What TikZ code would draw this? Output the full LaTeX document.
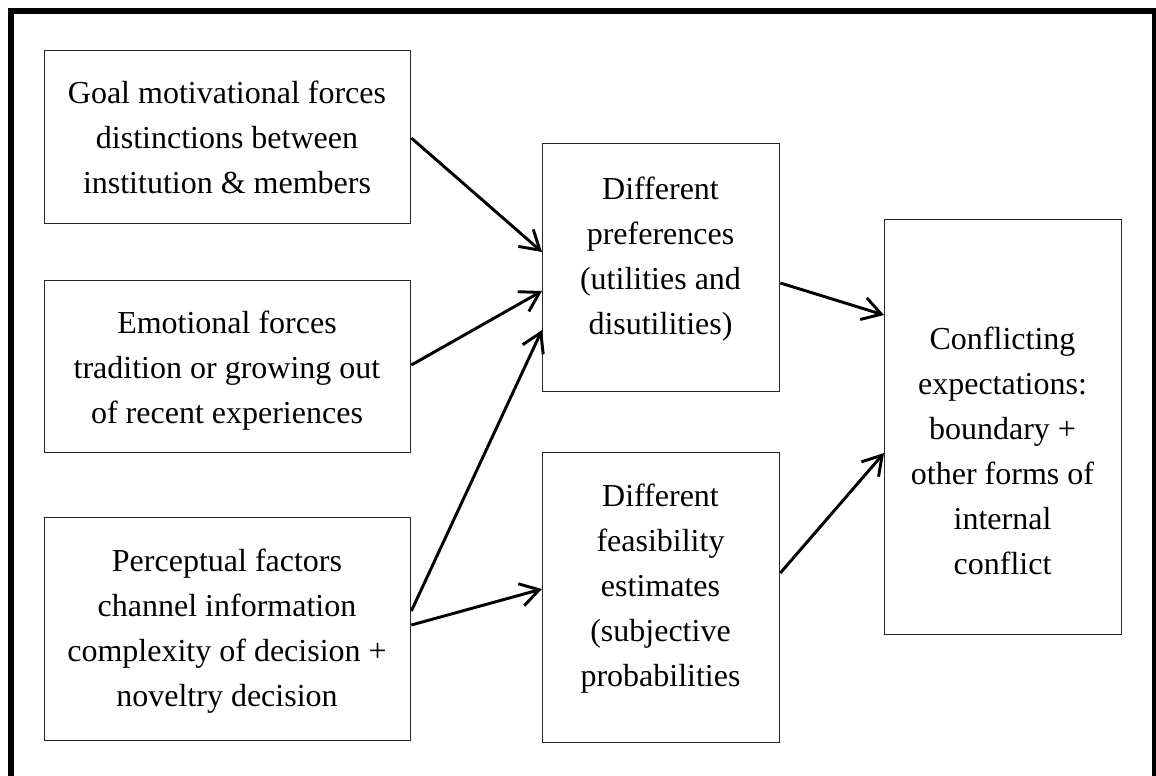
\documentclass[tikz,border=0pt]{standalone}
\usepackage{fontspec}
\setmainfont{Liberation Serif}
\usetikzlibrary{arrows.meta,calc}
\begin{document}
\begin{tikzpicture}[x=0.75pt,y=-0.75pt,
  box/.style={draw=black!85, line width=1pt, anchor=north west, inner sep=0pt},
  lbl/.style={anchor=north, align=center, inner sep=0pt, font=\fontsize{24pt}{33.75pt}\selectfont},
  arr/.style={line width=2.2pt, -{Straight Barb[length=14pt,width=17pt,line width=2.2pt]}},
  frame/.style={line width=4.5pt}
]
\useasboundingbox (0,0) rectangle (1156,775);
\draw[frame] (11,10.5) rectangle (1155,790);
% boxes
\node[box, minimum width=274.5pt, minimum height=129.75pt] (b1) at (44,50) {};
\node[box, minimum width=274.5pt, minimum height=129pt] (b2) at (44,280) {};
\node[box, minimum width=274.5pt, minimum height=167.25pt] (b3) at (44,517) {};
\node[box, minimum width=177.75pt, minimum height=186pt] (b4) at (542,143) {};
\node[box, minimum width=177.75pt, minimum height=217.5pt] (b5) at (542,452) {};
\node[box, minimum width=177.75pt, minimum height=311.25pt] (b6) at (884,219) {};
% texts
\node[lbl] (t1) at (227,71.5) {\strut Goal motivational forces\\distinctions between\\institution \& members};
\node[lbl] (t2) at (227,302) {\strut Emotional forces\\tradition or growing out\\of recent experiences};
\node[lbl] (t3) at (227,540) {\strut Perceptual factors\\channel information\\complexity of decision +\\noveltry decision};
\node[lbl] (t4) at (660.5,167.5) {\strut Different\\preferences\\(utilities and\\disutilities)};
\node[lbl] (t5) at (660.5,475) {\strut Different\\feasibility\\estimates\\(subjective\\probabilities};
\node[lbl] (t6) at (1002.5,318) {\strut Conflicting\\expectations:\\boundary +\\other forms of\\internal\\conflict};
% arrows
\draw[arr] ($(b1.north east)+(0,88)$) -- ($(b4.north west)+(0,109)$);
\draw[arr] ($(b2.north east)+(0,85)$) -- ($(b4.north west)+(0,148)$);
\draw[arr] ($(b3.north east)+(0,94)$) -- ($(b4.north west)+(0,187)$);
\draw[arr] ($(b3.north east)+(0,108)$) -- ($(b5.north west)+(0,137)$);
\draw[arr] ($(b4.north east)+(0,140)$) -- ($(b6.north west)+(0,96)$);
\draw[arr] ($(b5.north east)+(0,121)$) -- ($(b6.north west)+(0,234)$);
\end{tikzpicture}
\end{document}
